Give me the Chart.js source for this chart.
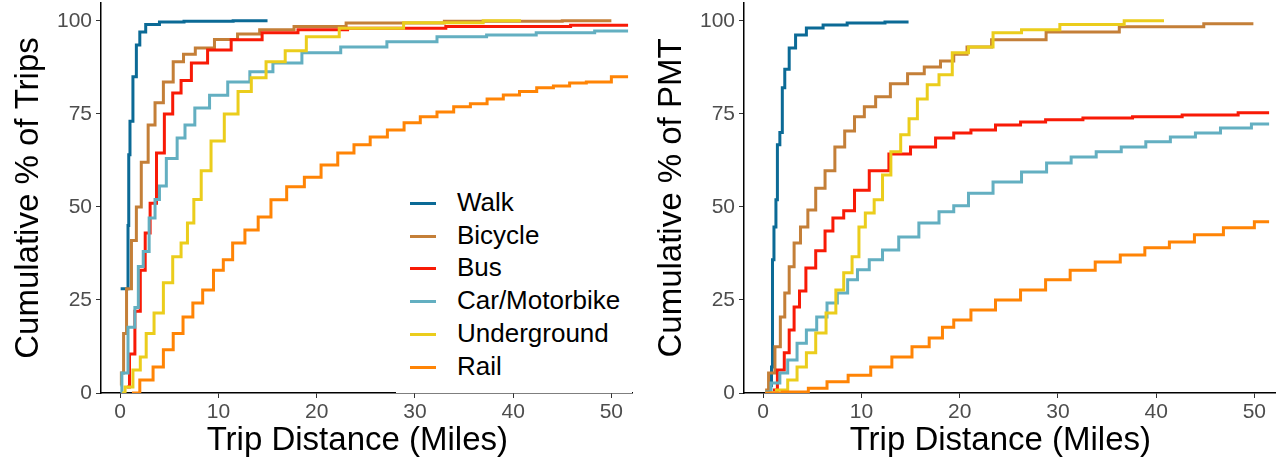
<!DOCTYPE html>
<html>
<head>
<meta charset="utf-8">
<script src="https://cdn.jsdelivr.net/npm/chart.js@4"></script>
<style>
  body { margin: 0; background: #fff; font-family: "Liberation Sans", Arial, sans-serif; }
  #wrap { position: relative; width: 1286px; height: 469px; }
  canvas { position: absolute; top: 0; }
  #legend { position: absolute; left: 396px; top: 186px; width: 236px; height: 207px; background: #fff; }
  .item { position: absolute; left: 0; height: 32px; font-size: 26px; color: #000; }
  .item span.sw { position: absolute; left: 14px; top: 15px; width: 26px; height: 3px; }
  .item span.tx { position: absolute; left: 61px; top: 0px; white-space: nowrap; }
</style>
</head>
<body>
<div id="wrap">
  <canvas id="trips" width="643" height="469" style="left:0"></canvas>
  <canvas id="pmt" width="643" height="469" style="left:643px"></canvas>
  <div id="legend"></div>
</div>
<script>
// modes + colours
const modes = ["Walk", "Bicycle", "Bus", "Car/Motorbike", "Underground", "Rail"];
const colours = ["#0b6a96", "#c47f38", "#f81a06", "#63afc1", "#ebcd1c", "#ff8405"];

const xTicks = [0, 10, 20, 30, 40, 50];
const yTicks = [0, 25, 50, 75, 100];

// cumulative % of trips  [miles, %]
const tripsWalk = [[0.05,28],[0.75,28],[0.85,45],[0.9,64],[1.1,73],[1.5,85],[1.8,93.5],[2.2,97],[3,99],[5,99.7],[8,99.9],[15,100]];
const tripsBicycle = [[0.05,2],[0.2,5.4],[0.5,16],[0.8,28],[1.5,41],[1.8,50],[2.5,62],[3.2,72],[3.9,78],[4.9,83.6],[5.9,89],[7,91],[8.3,92.7],[10.9,95],[13,96.5],[15.4,97.6],[20,98.5],[26,99.4],[40,99.9],[50,100]];
const tripsBus = [[0.7,1.6],[1.2,10.5],[1.8,22],[2.3,33],[2.8,43],[3.3,51],[4.1,64.5],[4.9,75],[5.8,80.6],[6.6,84],[7.9,88.7],[9.9,92.2],[12.7,94.9],[16.2,96.8],[20,97.6],[26.3,98],[40,98.5],[51.7,98.8]];
const tripsCar = [[0.05,0],[0.3,5.4],[1.3,17.7],[1.7,23],[2.0,34],[2.7,38],[3.2,47],[3.9,52],[4.1,55.6],[5.3,63],[6.3,68.5],[6.9,72],[8.3,76.6],[9.9,80],[12,83.6],[14.4,86.3],[16.7,88.7],[20.3,91.4],[24.6,93],[29.7,94.4],[34.8,95.7],[39.8,96.2],[44.9,96.8],[51.7,97.3]];
const tripsUnderground = [[0.2,0],[0.8,1.6],[1.8,6.2],[2.3,9.7],[3.0,16],[3.9,21.5],[4.9,29.6],[5.8,36.6],[6.6,40.3],[7.1,45.7],[7.9,52],[8.6,59.7],[9.9,67.7],[11.3,75],[12.7,81],[14,84.7],[15.7,89],[17.9,92],[20,95.7],[24.6,98],[33.1,99.5],[40.8,100]];
const tripsRail = [[1.2,0],[2.8,3.5],[3.9,7],[4.9,11.6],[5.9,16],[6.9,20.4],[7.9,24.2],[8.9,27.7],[10.1,33],[10.9,35.8],[12,40.3],[13.4,43.8],[14.7,47.3],[16,51.9],[17.9,55.4],[19.6,58],[21.3,61.3],[23,64.5],[24.6,66.7],[26.3,68.8],[28.1,70.7],[29.7,72.6],[31.4,74.2],[33.1,75.5],[34.8,76.9],[36.5,77.7],[38.2,79],[39.8,80.1],[41.5,81],[43.3,82],[44.9,82.5],[46.6,83.3],[48.3,83.6],[51.7,85]];

// cumulative % of PMT  [miles, %]
const pmtWalk = [[0.8,2],[0.9,7],[1.0,35.8],[1.2,44.6],[1.4,51.9],[1.5,66.7],[1.9,70],[2.0,82],[2.4,87],[2.9,92.7],[3.7,96.2],[5.1,98.1],[7.1,98.9],[10,99.4],[14.8,99.7]];
const pmtBicycle = [[0.2,0.8],[0.9,5.4],[1.5,12.4],[2.0,20.4],[2.4,26.9],[2.9,33.9],[3.4,40.3],[4.2,44.6],[4.9,49.2],[5.8,55],[6.8,59.7],[7.8,66.1],[8.8,70.4],[9.8,74.2],[10.8,76.9],[12.1,79.6],[13.8,83.1],[15.6,85.8],[17.2,87.6],[18.9,89.2],[19.9,91],[21.6,93],[24.9,94.9],[32.7,97],[39.8,98.4],[49.9,99.2]];
const pmtBus = [[1.0,0.8],[1.9,6.2],[2.4,10.8],[2.9,16.9],[3.4,23.1],[4.0,27.4],[4.7,33.6],[6.0,38.2],[6.6,43.5],[7.6,47],[8.8,49],[9.8,54.5],[11.8,59.7],[13.8,64.2],[16.2,66.1],[18.9,68.5],[19.9,69.9],[22.4,70.7],[24.9,72],[27.5,72.8],[30,73.4],[35.1,73.9],[40.1,74.2],[45.2,74.7],[51.5,75.3]];
const pmtCar = [[0.2,0.3],[1.4,2.7],[2.0,5.4],[3.0,8.9],[3.9,13.4],[4.9,16.9],[6.0,20.4],[7.0,24.2],[8.1,26.9],[9.1,30.4],[10.1,33.1],[11.5,35.8],[12.8,38.4],[14.8,41.9],[16.9,45.7],[18.9,48.7],[19.9,50.3],[21.9,53.7],[24.9,56.7],[27.7,59.4],[30,61.8],[32.7,63.4],[35.1,64.8],[37.8,66.1],[40.1,67.5],[42.8,68.8],[45.2,69.9],[47.9,71.2],[51.5,72.3]];
const pmtUnderground = [[0.7,0],[2.0,0.8],[3.0,3.5],[3.9,7],[4.9,10.8],[5.8,16.1],[7.0,21.5],[7.8,27.7],[8.6,32.3],[9.5,36.6],[10.0,44.6],[10.8,48.4],[11.8,51.9],[12.5,58.6],[13.5,64.8],[14.5,69.4],[15.2,73.7],[16.2,79],[17.2,82.8],[18.6,85.5],[19.9,91.4],[21.9,93],[24.9,96.8],[27.7,97.6],[32.7,99],[40.8,100]];
const pmtRail = [[0.2,0],[3.7,0.3],[5.5,1.3],[7.5,3],[9.8,4.8],[12.1,7],[14.1,9.7],[16.2,12.4],[17.6,14.8],[18.9,17.7],[19.9,19.6],[22.4,22.3],[24.9,25],[27.5,27.7],[30,30.4],[32.5,33],[35.1,35.2],[37.6,37.1],[40.1,39],[42.6,40.6],[45.2,42.5],[48.5,44.4],[51.5,46]];

const tripsSeries = [tripsWalk, tripsBicycle, tripsBus, tripsCar, tripsUnderground, tripsRail];
const pmtSeries = [pmtWalk, pmtBicycle, pmtBus, pmtCar, pmtUnderground, pmtRail];

Chart.defaults.font.family = '"Liberation Sans", Arial, sans-serif';

function makeChart(id, series, yTitle) {
  const datasets = series.map((pts, i) => ({
    label: modes[i],
    data: pts.map(p => ({ x: p[0], y: p[1] })),
    borderColor: colours[i],
    backgroundColor: colours[i],
    borderWidth: 3,
    pointRadius: 0,
    stepped: 'middle',
    fill: false
  }));
  // rail drawn first so the others sit on top
  datasets.reverse();

  const config = {
    type: 'line',
    data: { datasets: datasets },
    options: {
      responsive: false,
      animation: false,
      devicePixelRatio: 1,
      layout: { padding: { top: 3, right: 11, left: 0, bottom: 0 } },
      plugins: { legend: { display: false }, tooltip: { enabled: false } },
      scales: {
        x: {
          type: 'linear',
          min: -1.95,
          max: 52.1,
          afterBuildTicks: s => { s.ticks = xTicks.map(v => ({ value: v })); },
          afterFit: s => { s.height = 76; s.paddingLeft = 0; s.paddingRight = 0; },
          grid: { drawOnChartArea: false, drawTicks: true, tickLength: 5, color: '#333' },
          border: { display: true, color: '#000', width: 1.5 },
          ticks: { color: '#4d4d4d', font: { size: 21 }, padding: 2, maxRotation: 0 },
          // two trailing spaces nudge the centred title left, as in the original
          title: { display: true, text: 'Trip Distance (Miles)  ', color: '#000', font: { size: 33 }, padding: { top: 0, bottom: 8 } }
        },
        y: {
          type: 'linear',
          min: 0,
          max: 104.8,
          afterBuildTicks: s => { s.ticks = yTicks.map(v => ({ value: v })); },
          afterFit: s => { s.width = 101; s.paddingTop = 0; s.paddingBottom = 0; },
          grid: { drawOnChartArea: false, drawTicks: true, tickLength: 5, color: '#333' },
          border: { display: true, color: '#000', width: 1.5 },
          ticks: { color: '#4d4d4d', font: { size: 21 }, padding: 4 },
          title: { display: true, text: yTitle, color: '#000', font: { size: 33 }, padding: { top: 9, bottom: 0 } }
        }
      }
    }
  };
  return new Chart(document.getElementById(id), config);
}

makeChart('trips', tripsSeries, 'Cumulative % of Trips');
makeChart('pmt', pmtSeries, 'Cumulative % of PMT');

// legend inside the left panel
const legend = document.getElementById('legend');
modes.forEach((m, i) => {
  const row = document.createElement('div');
  row.className = 'item';
  row.style.top = (1 + i * 32.7) + 'px';
  row.innerHTML = '<span class="sw" style="background:' + colours[i] + '"></span><span class="tx">' + m + '</span>';
  legend.appendChild(row);
});
</script>
</body>
</html>
